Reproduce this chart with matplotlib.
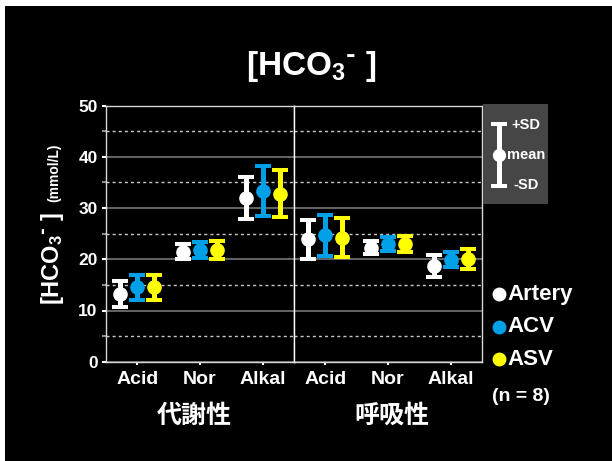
"""
plot.py
-------
Blood bicarbonate [HCO3-] (mean +/- SD) for arterial, ACV and ASV samples
under acid / normal / alkaline loading, metabolic vs respiratory.
"""

import numpy as np
import matplotlib
matplotlib.use("Agg")
import matplotlib.pyplot as plt
from matplotlib.patches import Rectangle
from matplotlib.ticker import MultipleLocator

OUT_PATH = "out.png"

CATEGORIES = ["Acid", "Nor", "Alkal"]
GROUPS = ["代謝性", "呼吸性"]
SERIES = ["Artery", "ACV", "ASV"]
COLORS = ["#ffffff", "#00a0e9", "#ffff00"]
Y_TICKS = [0, 10, 20, 30, 40, 50]

# metabolic (代謝性)
ARTERY_MET_MEAN = [13.2, 21.5, 31.9]
ARTERY_MET_SD = [2.6, 1.5, 4.1]
ACV_MET_MEAN = [14.5, 21.8, 33.4]
ACV_MET_SD = [2.5, 1.6, 4.9]
ASV_MET_MEAN = [14.5, 21.8, 32.8]
ASV_MET_SD = [2.5, 1.8, 4.6]

# respiratory (呼吸性)
ARTERY_RESP_MEAN = [23.9, 22.3, 18.7]
ARTERY_RESP_SD = [3.8, 1.3, 2.1]
ACV_RESP_MEAN = [24.7, 23.0, 19.9]
ACV_RESP_SD = [4.0, 1.4, 1.5]
ASV_RESP_MEAN = [24.2, 23.0, 20.1]
ASV_RESP_SD = [3.8, 1.5, 1.9]

N_SUBJECTS = 8

W, H = 612, 461
FONT = "Liberation Sans"
CJK_FONT = "Noto Sans CJK JP"
OFFSETS = [-0.27, 0.0, 0.27]
BAR_STYLE = dict(fmt="o", ms=9.5, elinewidth=3.6, capsize=6, capthick=2.9)
HCO3 = r"[HCO$_3$$^{\text{-}}$ ]"

plt.rcParams["font.family"] = [FONT, "DejaVu Sans"]
plt.rcParams["font.weight"] = "bold"
plt.rcParams["mathtext.default"] = "regular"


def px_rect(x0, y0, x1, y1):
    """Pixel box (top-left origin) -> figure fraction rect."""
    return [x0 / W, 1 - y1 / H, (x1 - x0) / W, (y1 - y0) / H]


def style_panel(ax, show_y):
    ax.set_facecolor("black")
    ax.set_xlim(-0.5, len(CATEGORIES) - 0.5)
    ax.set_ylim(Y_TICKS[0], Y_TICKS[-1])
    ax.set_yticks(Y_TICKS)
    ax.yaxis.set_minor_locator(MultipleLocator(5))
    ax.set_xticks(range(len(CATEGORIES)))
    ax.set_xticklabels(CATEGORIES, fontsize=14, fontweight="bold", color="white")

    ax.yaxis.grid(True, which="major", color="#808080", lw=1.1)
    ax.yaxis.grid(True, which="minor", color="#c8c8c8", lw=1.0, ls=(0, (2.2, 2.2)))
    ax.set_axisbelow(True)

    for sp in ax.spines.values():
        sp.set_color("#d8d8d8")
        sp.set_linewidth(1.0)

    ax.tick_params(axis="x", length=2, width=1.5, color="white", pad=5)
    if show_y:
        ax.tick_params(axis="y", which="major", length=3, width=1.5, color="white",
                       labelcolor="white", labelsize=12.5, pad=3)
        ax.tick_params(axis="y", which="minor", length=3, width=1.2, color="#aaaaaa")
        for lab in ax.get_yticklabels():
            lab.set_fontweight("bold")
    else:
        ax.tick_params(axis="y", which="both", left=False, labelleft=False)
        ax.spines["left"].set_color("white")


def draw_panel(ax, means, sds):
    x = np.arange(len(CATEGORIES))
    for i, (m, s) in enumerate(zip(means, sds)):
        ax.errorbar(x + OFFSETS[i], m, yerr=s, color=COLORS[i], zorder=3, **BAR_STYLE)


def main():
    fig = plt.figure(figsize=(W / 100, H / 100), dpi=100)
    fig.patch.set_facecolor("black")
    # thin white margin along the top and left edges
    fig.patches.append(Rectangle((0, 0), 5 / W, 1, transform=fig.transFigure,
                                 facecolor="white", edgecolor="none"))
    fig.patches.append(Rectangle((0, 1 - 6 / H), 1, 6 / H, transform=fig.transFigure,
                                 facecolor="white", edgecolor="none"))

    ax_met = fig.add_axes(px_rect(106, 105.7, 294, 361.7))
    ax_resp = fig.add_axes(px_rect(294, 105.7, 482, 361.7))
    style_panel(ax_met, show_y=True)
    style_panel(ax_resp, show_y=False)

    draw_panel(ax_met, [ARTERY_MET_MEAN, ACV_MET_MEAN, ASV_MET_MEAN],
               [ARTERY_MET_SD, ACV_MET_SD, ASV_MET_SD])
    draw_panel(ax_resp, [ARTERY_RESP_MEAN, ACV_RESP_MEAN, ASV_RESP_MEAN],
               [ARTERY_RESP_SD, ACV_RESP_SD, ASV_RESP_SD])

    # overlay in pixel coordinates for title, labels and legend
    ov = fig.add_axes([0, 0, 1, 1])
    ov.set_xlim(0, W)
    ov.set_ylim(H, 0)
    ov.axis("off")
    ov.patch.set_alpha(0)

    ov.text(311, 67, HCO3, fontsize=24, fontweight="bold",
            color="white", ha="center", va="center")

    ov.text(52, 258, HCO3, fontsize=17, fontweight="bold",
            color="white", ha="center", va="center", rotation=90)
    ov.text(54, 173, "(mmol/L)", fontsize=10, fontweight="bold",
            color="white", ha="center", va="center", rotation=90)

    for gx, g in zip([194, 392], GROUPS):
        ov.text(gx, 416, g, fontsize=18, fontweight="bold", color="white",
                ha="center", va="center", family=[CJK_FONT, "DejaVu Sans"])

    # SD key box
    ov.add_patch(Rectangle((483.3, 104.3), 65, 99.7, facecolor="#464646",
                           edgecolor="none"))
    ov.errorbar([499], [155.5], yerr=[31], color="white", fmt="o", ms=8.5,
                elinewidth=3.6, capsize=6, capthick=2.9)
    key_font = dict(fontsize=10.5, fontweight="bold", color="white", va="center", ha="left")
    ov.text(511.5, 125, "+SD", **key_font)
    ov.text(507, 154.5, "mean", **key_font)
    ov.text(513, 185, "-SD", **key_font)

    # series legend
    for i, (name, c) in enumerate(zip(SERIES, COLORS)):
        y = 294 + i * 32.5
        ov.plot([498.5], [y], "o", color=c, ms=9)
        ov.text(507, y, name, fontsize=16, fontweight="bold", color="white",
                ha="left", va="center")
    ov.text(492.5, 396, f"(n = {N_SUBJECTS})", fontsize=14, fontweight="bold",
            color="white", ha="left", va="center")

    fig.savefig(OUT_PATH, dpi=100, facecolor=fig.get_facecolor())
    plt.close(fig)


if __name__ == "__main__":
    main()
